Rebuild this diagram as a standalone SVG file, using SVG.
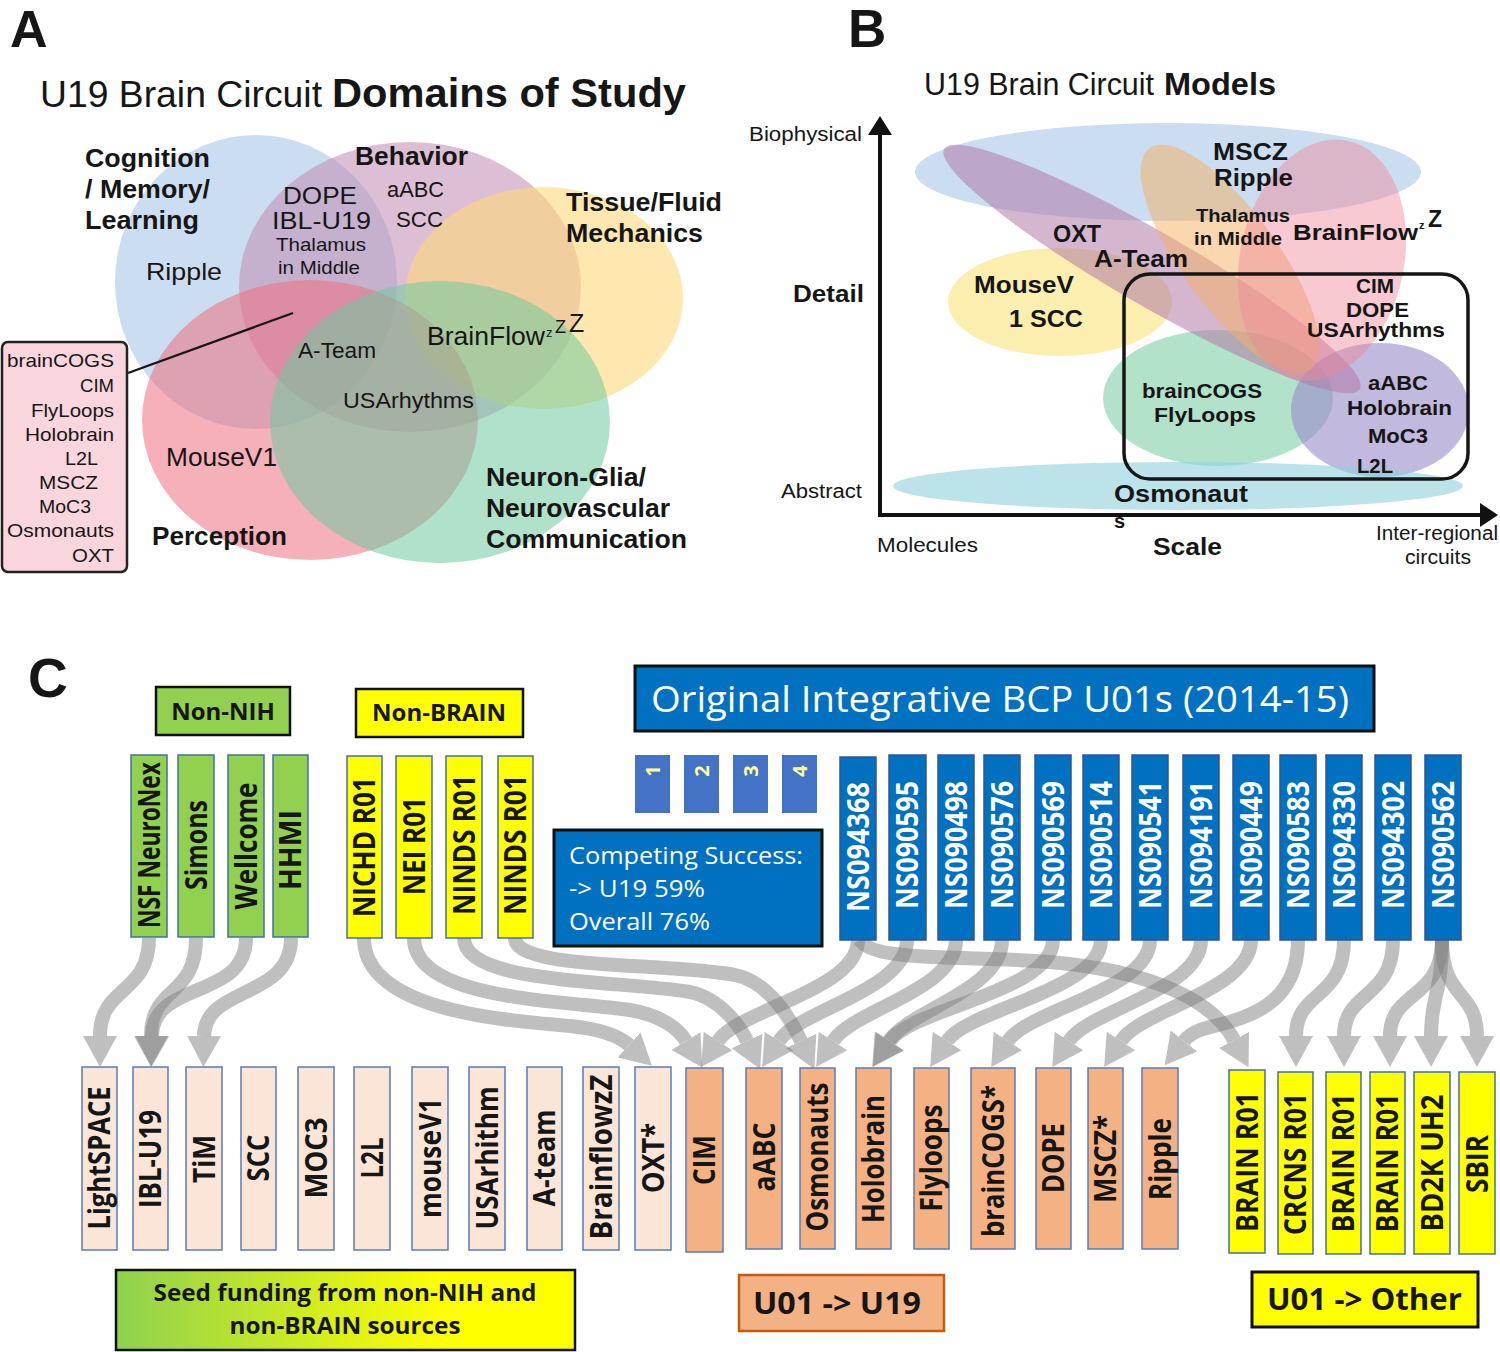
<svg xmlns="http://www.w3.org/2000/svg" width="1500" height="1352" viewBox="0 0 1500 1352">
<defs>
<style>
text{font-family:"Liberation Sans",Arial,sans-serif;fill:#161616}
.b{font-weight:bold}
.o{font-family:"Open Sans","Liberation Sans",sans-serif;font-weight:bold}
.ow{font-family:"Open Sans","Liberation Sans",sans-serif;fill:#ffffff}
.rl{font-family:"Open Sans","Liberation Sans",sans-serif;font-weight:bold;font-size:30px;text-anchor:middle}
.wt{fill:#ffffff}
.num{font-family:"Open Sans","Liberation Sans",sans-serif;font-weight:bold;font-size:20px;fill:#ffff99;text-anchor:middle}
.con path{fill:none;stroke:#808080;stroke-opacity:0.5;stroke-width:14;marker-end:url(#ah)}
.gb{fill:#92d050;stroke:#41719c;stroke-width:1.5}
.yb{fill:#ffff00;stroke:#41719c;stroke-width:1.5}
.nb{fill:#0070c0;stroke:#2f5597;stroke-width:1.5}
.pb{fill:#fbe5d6;stroke:#5b7bb5;stroke-width:1.5}
.ob{fill:#f4b183;stroke:#5b7bb5;stroke-width:1.5}
.sq{fill:#4472c4}
</style>
<marker id="ah" markerUnits="userSpaceOnUse" markerWidth="32" markerHeight="36" viewBox="0 0 32 36" refX="0" refY="18" orient="auto"><path d="M0,1 L31,18 L0,35 z" fill="#808080" fill-opacity="0.5"/></marker>
<linearGradient id="seed" x1="0" x2="1" y1="0" y2="0"><stop offset="0" stop-color="#8fd14f"/><stop offset="0.72" stop-color="#ffff00"/><stop offset="1" stop-color="#ffff00"/></linearGradient>
</defs>
<rect width="1500" height="1352" fill="#ffffff"/>

<!-- ========== PANEL A ========== -->
<g id="panelA">
<text class="b" x="10" y="47" font-size="52">A</text>
<text x="40" y="107" font-size="36" textLength="282" lengthAdjust="spacingAndGlyphs">U19 Brain Circuit</text>
<text class="b" x="332" y="107" font-size="40" textLength="354" lengthAdjust="spacingAndGlyphs">Domains of Study</text>
<g id="venn">
<ellipse cx="256" cy="282" rx="141" ry="147" fill="#a9c6e6" fill-opacity="0.6"/>
<ellipse cx="410" cy="287" rx="171" ry="145" fill="#c18ab2" fill-opacity="0.55"/>
<ellipse cx="544" cy="298" rx="139" ry="111" fill="#fdd97a" fill-opacity="0.6"/>
<ellipse cx="310" cy="420" rx="168" ry="140" fill="#ee7080" fill-opacity="0.55"/>
<ellipse cx="440" cy="422" rx="170" ry="141" fill="#6fcaa0" fill-opacity="0.55"/>
</g>
<text class="b" x="85" y="167" font-size="25" textLength="125" lengthAdjust="spacingAndGlyphs">Cognition</text>
<text class="b" x="85" y="198" font-size="25" textLength="125" lengthAdjust="spacingAndGlyphs">/ Memory/</text>
<text class="b" x="85" y="229" font-size="25" textLength="114" lengthAdjust="spacingAndGlyphs">Learning</text>
<text class="b" x="355" y="165" font-size="25" textLength="113" lengthAdjust="spacingAndGlyphs">Behavior</text>
<text class="b" x="566" y="211" font-size="25" textLength="156" lengthAdjust="spacingAndGlyphs">Tissue/Fluid</text>
<text class="b" x="566" y="242" font-size="25" textLength="137" lengthAdjust="spacingAndGlyphs">Mechanics</text>
<text x="283" y="204" font-size="23" textLength="74" lengthAdjust="spacingAndGlyphs">DOPE</text>
<text x="272" y="229" font-size="23" textLength="99" lengthAdjust="spacingAndGlyphs">IBL-U19</text>
<text x="276" y="251" font-size="19" textLength="90" lengthAdjust="spacingAndGlyphs">Thalamus</text>
<text x="278" y="274" font-size="19" textLength="82" lengthAdjust="spacingAndGlyphs">in Middle</text>
<text x="387" y="197" font-size="22" textLength="57" lengthAdjust="spacingAndGlyphs">aABC</text>
<text x="396" y="227" font-size="22" textLength="47" lengthAdjust="spacingAndGlyphs">SCC</text>
<text x="146" y="280" font-size="24" textLength="76" lengthAdjust="spacingAndGlyphs">Ripple</text>
<text x="298" y="358" font-size="22" textLength="78" lengthAdjust="spacingAndGlyphs">A-Team</text>
<text x="427" y="345" font-size="25" textLength="118" lengthAdjust="spacingAndGlyphs">BrainFlow</text>
<text x="546" y="337" font-size="13">z</text>
<text x="555" y="333" font-size="18">Z</text>
<text x="569" y="332" font-size="25">Z</text>
<text x="343" y="408" font-size="22" textLength="131" lengthAdjust="spacingAndGlyphs">USArhythms</text>
<text x="166" y="466" font-size="25" textLength="111" lengthAdjust="spacingAndGlyphs">MouseV1</text>
<text class="b" x="152" y="545" font-size="25" textLength="135" lengthAdjust="spacingAndGlyphs">Perception</text>
<text class="b" x="486" y="486" font-size="25" textLength="160" lengthAdjust="spacingAndGlyphs">Neuron-Glia/</text>
<text class="b" x="486" y="517" font-size="25" textLength="184" lengthAdjust="spacingAndGlyphs">Neurovascular</text>
<text class="b" x="486" y="548" font-size="25" textLength="201" lengthAdjust="spacingAndGlyphs">Communication</text>
<line x1="128" y1="373" x2="293" y2="313" stroke="#161616" stroke-width="2.2"/>
<g id="listbox">
<rect x="2" y="342" width="125" height="230" rx="6" fill="#f9d5dd" stroke="#222" stroke-width="2.5"/>
<text x="7" y="367" font-size="19" textLength="107" lengthAdjust="spacingAndGlyphs">brainCOGS</text>
<text x="80" y="392" font-size="19" textLength="34" lengthAdjust="spacingAndGlyphs">CIM</text>
<text x="31" y="417" font-size="19" textLength="83" lengthAdjust="spacingAndGlyphs">FlyLoops</text>
<text x="25" y="441" font-size="19" textLength="89" lengthAdjust="spacingAndGlyphs">Holobrain</text>
<text x="65" y="465" font-size="19" textLength="33" lengthAdjust="spacingAndGlyphs">L2L</text>
<text x="39" y="489" font-size="19" textLength="59" lengthAdjust="spacingAndGlyphs">MSCZ</text>
<text x="39" y="513" font-size="19" textLength="52" lengthAdjust="spacingAndGlyphs">MoC3</text>
<text x="7" y="537" font-size="19" textLength="107" lengthAdjust="spacingAndGlyphs">Osmonauts</text>
<text x="72" y="562" font-size="19" textLength="42" lengthAdjust="spacingAndGlyphs">OXT</text>
</g>
</g>

<!-- ========== PANEL B ========== -->
<g id="panelB">
<text class="b" x="848" y="47" font-size="53">B</text>
<text x="924" y="95" font-size="31" textLength="230" lengthAdjust="spacingAndGlyphs">U19 Brain Circuit</text>
<text class="b" x="1164" y="95" font-size="31" textLength="112" lengthAdjust="spacingAndGlyphs">Models</text>
<g id="modelEllipses">
<ellipse cx="1168" cy="172" rx="253" ry="49" fill="#a9c6e6" fill-opacity="0.6"/>
<ellipse cx="1060" cy="302" rx="112" ry="54" fill="#f9e27a" fill-opacity="0.6"/>
<ellipse cx="1218" cy="398" rx="115" ry="68" fill="#80cfa8" fill-opacity="0.6"/>
<ellipse cx="1380" cy="410" rx="89" ry="67" fill="#9a8bc8" fill-opacity="0.6"/>
<ellipse cx="1152" cy="269" rx="240" ry="37" transform="rotate(30 1152 269)" fill="#b07aa8" fill-opacity="0.55"/>
<ellipse cx="1230" cy="259" rx="137" ry="48" transform="rotate(54 1230 259)" fill="#f5b060" fill-opacity="0.5"/>
<ellipse cx="1322" cy="260" rx="82" ry="122" transform="rotate(12 1322 260)" fill="#f08898" fill-opacity="0.45"/>
<ellipse cx="1178" cy="486" rx="285" ry="24" fill="#8fd0dc" fill-opacity="0.6"/>
</g>
<rect x="1124" y="274" width="344" height="205" rx="26" fill="none" stroke="#161616" stroke-width="3.5"/>
<line x1="880" y1="517" x2="880" y2="132" stroke="#111" stroke-width="4"/>
<polygon points="880,116 868,135 892,135" fill="#111"/>
<line x1="878" y1="515" x2="1482" y2="515" stroke="#111" stroke-width="4"/>
<polygon points="1498,515 1480,503 1480,527" fill="#111"/>
<text x="749" y="141" font-size="20" textLength="113" lengthAdjust="spacingAndGlyphs">Biophysical</text>
<text class="b" x="793" y="302" font-size="24" textLength="71" lengthAdjust="spacingAndGlyphs">Detail</text>
<text x="781" y="498" font-size="20" textLength="81" lengthAdjust="spacingAndGlyphs">Abstract</text>
<text x="877" y="552" font-size="20" textLength="101" lengthAdjust="spacingAndGlyphs">Molecules</text>
<text class="b" x="1153" y="555" font-size="24" textLength="69" lengthAdjust="spacingAndGlyphs">Scale</text>
<text x="1376" y="540" font-size="20" textLength="122" lengthAdjust="spacingAndGlyphs">Inter-regional</text>
<text x="1405" y="564" font-size="20" textLength="66" lengthAdjust="spacingAndGlyphs">circuits</text>
<text class="b" x="1213" y="160" font-size="23" textLength="75" lengthAdjust="spacingAndGlyphs">MSCZ</text>
<text class="b" x="1214" y="186" font-size="23" textLength="79" lengthAdjust="spacingAndGlyphs">Ripple</text>
<text class="b" x="1196" y="222" font-size="18" textLength="94" lengthAdjust="spacingAndGlyphs">Thalamus</text>
<text class="b" x="1194" y="245" font-size="18" textLength="88" lengthAdjust="spacingAndGlyphs">in Middle</text>
<text class="b" x="1293" y="240" font-size="22" textLength="125" lengthAdjust="spacingAndGlyphs">BrainFlow</text>
<text class="b" x="1419" y="229" font-size="11">z</text>
<text class="b" x="1428" y="227" font-size="23">Z</text>
<text class="b" x="1053" y="242" font-size="23" textLength="48" lengthAdjust="spacingAndGlyphs">OXT</text>
<text class="b" x="1094" y="267" font-size="23" textLength="94" lengthAdjust="spacingAndGlyphs">A-Team</text>
<text class="b" x="974" y="293" font-size="23" textLength="100" lengthAdjust="spacingAndGlyphs">MouseV</text>
<text class="b" x="1009" y="327" font-size="23" textLength="74" lengthAdjust="spacingAndGlyphs">1 SCC</text>
<text class="b" x="1356" y="293" font-size="20" textLength="38" lengthAdjust="spacingAndGlyphs">CIM</text>
<text class="b" x="1346" y="317" font-size="20" textLength="63" lengthAdjust="spacingAndGlyphs">DOPE</text>
<text class="b" x="1307" y="337" font-size="20" textLength="138" lengthAdjust="spacingAndGlyphs">USArhythms</text>
<text class="b" x="1142" y="398" font-size="21" textLength="120" lengthAdjust="spacingAndGlyphs">brainCOGS</text>
<text class="b" x="1154" y="422" font-size="21" textLength="102" lengthAdjust="spacingAndGlyphs">FlyLoops</text>
<text class="b" x="1368" y="390" font-size="21" textLength="60" lengthAdjust="spacingAndGlyphs">aABC</text>
<text class="b" x="1347" y="415" font-size="21" textLength="105" lengthAdjust="spacingAndGlyphs">Holobrain</text>
<text class="b" x="1368" y="443" font-size="21" textLength="60" lengthAdjust="spacingAndGlyphs">MoC3</text>
<text class="b" x="1357" y="473" font-size="21" textLength="36" lengthAdjust="spacingAndGlyphs">L2L</text>
<text class="b" x="1114" y="502" font-size="23" textLength="134" lengthAdjust="spacingAndGlyphs">Osmonaut</text>
<text class="b" x="1114" y="528" font-size="20">s</text>
</g>

<!-- ========== PANEL C ========== -->
<text class="b" x="28" y="697" font-size="55">C</text>

<g id="connectors" class="con">
<path d="M149,938 C149,995 100,985 100,1036"/>
<path d="M196,938 C196,998 151,985 151,1036"/>
<path d="M246,938 C246,1000 153,980 152,1036"/>
<path d="M291,938 C291,1000 205,985 204,1036"/>
<path d="M364,938 C364,1010 500,1020 570,1026 C600,1029 618,1035 629,1045"/>
<path d="M414,938 C414,1000 560,1000 630,1010 C660,1015 678,1028 686,1041"/>
<path d="M464,938 C464,985 620,980 690,992 C720,998 740,1026 747,1041"/>
<path d="M515,938 C515,970 660,962 735,975 C770,982 792,1022 801,1041"/>
<path d="M858,940 C858,990 738,1010 718,1041"/>
<path d="M860,940 C872,962 960,955 1050,962 C1140,970 1210,995 1234,1040"/>
<path d="M907,940 C907,990 799,1010 779,1041"/>
<path d="M956,940 C956,990 853,1010 833,1041"/>
<path d="M1002,940 C1002,990 909,1010 889,1041"/>
<path d="M1053,940 C1053,992 912,1008 890,1041"/>
<path d="M1101,940 C1101,990 967,1010 947,1041"/>
<path d="M1150,940 C1150,990 1028,1010 1008,1041"/>
<path d="M1201,940 C1201,990 1089,1010 1069,1041"/>
<path d="M1251,940 C1251,990 1141,1010 1121,1041"/>
<path d="M1298,940 C1298,1015 1230,1020 1200,1030 C1192,1033 1188,1036 1184,1041"/>
<path d="M1344,940 C1344,1000 1296,990 1296,1036"/>
<path d="M1393,940 C1393,1000 1344,990 1344,1036"/>
<path d="M1442,940 C1442,1000 1390,990 1390,1036"/>
<path d="M1442,940 C1442,995 1431,995 1431,1036"/>
<path d="M1442,940 C1442,1000 1477,990 1477,1036"/>
</g>

<g id="non-nih"><rect x="156" y="687" width="134" height="48" fill="#92d050" stroke="#111" stroke-width="2.5"/><text class="o" x="223" y="720" font-size="24" text-anchor="middle">Non-NIH</text></g>
<g id="non-brain"><rect x="356" y="689" width="167" height="48" fill="#ffff00" stroke="#111" stroke-width="2.5"/><text class="o" x="439" y="721" font-size="24" text-anchor="middle">Non-BRAIN</text></g>
<g id="u01-title"><rect x="635" y="666" width="739" height="65" fill="#0070c0" stroke="#111" stroke-width="3"/><text class="ow" x="651" y="712" font-size="37" textLength="698" lengthAdjust="spacingAndGlyphs">Original Integrative BCP U01s (2014-15)</text></g>
<g id="competing"><rect x="554" y="830" width="268" height="116" fill="#0070c0" stroke="#111" stroke-width="3"/>
<text class="ow" x="569" y="864" font-size="24" textLength="234" lengthAdjust="spacingAndGlyphs">Competing Success:</text>
<text class="ow" x="569" y="897" font-size="24" textLength="136" lengthAdjust="spacingAndGlyphs">-&gt; U19 59%</text>
<text class="ow" x="569" y="930" font-size="24" textLength="141" lengthAdjust="spacingAndGlyphs">Overall 76%</text></g>

<g id="sq1"><rect class="sq" x="635" y="755" width="35" height="58"/><text class="num" transform="translate(659.5,771) rotate(-90)">1</text></g>
<g id="sq2"><rect class="sq" x="684" y="755" width="35" height="58"/><text class="num" transform="translate(708.5,771) rotate(-90)">2</text></g>
<g id="sq3"><rect class="sq" x="733" y="755" width="35" height="58"/><text class="num" transform="translate(757.5,771) rotate(-90)">3</text></g>
<g id="sq4"><rect class="sq" x="782" y="755" width="35" height="58"/><text class="num" transform="translate(806.5,771) rotate(-90)">4</text></g>

<g id="src-nsf"><rect class="gb" x="131" y="755" width="36" height="182"/><text class="rl" transform="translate(159.5,845) rotate(-90)" textLength="166" lengthAdjust="spacingAndGlyphs">NSF NeuroNex</text></g>
<g id="src-simons"><rect class="gb" x="178" y="755" width="36" height="182"/><text class="rl" transform="translate(206.5,845) rotate(-90)" textLength="90" lengthAdjust="spacingAndGlyphs">Simons</text></g>
<g id="src-wellcome"><rect class="gb" x="228" y="755" width="36" height="182"/><text class="rl" transform="translate(256.5,846) rotate(-90)" textLength="127" lengthAdjust="spacingAndGlyphs">Wellcome</text></g>
<g id="src-hhmi"><rect class="gb" x="273" y="755" width="35" height="182"/><text class="rl" transform="translate(301,850) rotate(-90)" textLength="80" lengthAdjust="spacingAndGlyphs">HHMI</text></g>
<g id="src-nichd"><rect class="yb" x="347" y="756" width="35" height="182"/><text class="rl" transform="translate(375,847) rotate(-90)" textLength="140" lengthAdjust="spacingAndGlyphs">NICHD R01</text></g>
<g id="src-nei"><rect class="yb" x="396" y="756" width="36" height="182"/><text class="rl" transform="translate(424.5,846) rotate(-90)" textLength="98" lengthAdjust="spacingAndGlyphs">NEI R01</text></g>
<g id="src-ninds1"><rect class="yb" x="446" y="756" width="36" height="182"/><text class="rl" transform="translate(474.5,845) rotate(-90)" textLength="140" lengthAdjust="spacingAndGlyphs">NINDS R01</text></g>
<g id="src-ninds2"><rect class="yb" x="498" y="756" width="35" height="182"/><text class="rl" transform="translate(526,845) rotate(-90)" textLength="140" lengthAdjust="spacingAndGlyphs">NINDS R01</text></g>

<g id="ns094368"><rect class="nb" x="840" y="757" width="36" height="183"/><text class="rl wt" transform="translate(868.5,847) rotate(-90)" textLength="130" lengthAdjust="spacingAndGlyphs">NS094368</text></g>
<g id="ns090595"><rect class="nb" x="889" y="755" width="37" height="185"/><text class="rl wt" transform="translate(918,845) rotate(-90)" textLength="128" lengthAdjust="spacingAndGlyphs">NS090595</text></g>
<g id="ns090498"><rect class="nb" x="938" y="755" width="36" height="185"/><text class="rl wt" transform="translate(966.5,845) rotate(-90)" textLength="128" lengthAdjust="spacingAndGlyphs">NS090498</text></g>
<g id="ns090576"><rect class="nb" x="984" y="755" width="36" height="185"/><text class="rl wt" transform="translate(1012.5,845) rotate(-90)" textLength="128" lengthAdjust="spacingAndGlyphs">NS090576</text></g>
<g id="ns090569"><rect class="nb" x="1035" y="755" width="36" height="185"/><text class="rl wt" transform="translate(1063.5,845) rotate(-90)" textLength="128" lengthAdjust="spacingAndGlyphs">NS090569</text></g>
<g id="ns090514"><rect class="nb" x="1083" y="755" width="36" height="185"/><text class="rl wt" transform="translate(1111.5,845) rotate(-90)" textLength="128" lengthAdjust="spacingAndGlyphs">NS090514</text></g>
<g id="ns090541"><rect class="nb" x="1132" y="755" width="36" height="185"/><text class="rl wt" transform="translate(1160.5,845) rotate(-90)" textLength="128" lengthAdjust="spacingAndGlyphs">NS090541</text></g>
<g id="ns094191"><rect class="nb" x="1183" y="755" width="36" height="185"/><text class="rl wt" transform="translate(1211.5,845) rotate(-90)" textLength="128" lengthAdjust="spacingAndGlyphs">NS094191</text></g>
<g id="ns090449"><rect class="nb" x="1233" y="755" width="36" height="185"/><text class="rl wt" transform="translate(1261.5,845) rotate(-90)" textLength="128" lengthAdjust="spacingAndGlyphs">NS090449</text></g>
<g id="ns090583"><rect class="nb" x="1280" y="755" width="36" height="185"/><text class="rl wt" transform="translate(1308.5,845) rotate(-90)" textLength="128" lengthAdjust="spacingAndGlyphs">NS090583</text></g>
<g id="ns094330"><rect class="nb" x="1326" y="755" width="36" height="185"/><text class="rl wt" transform="translate(1354.5,845) rotate(-90)" textLength="128" lengthAdjust="spacingAndGlyphs">NS094330</text></g>
<g id="ns094302"><rect class="nb" x="1375" y="755" width="36" height="185"/><text class="rl wt" transform="translate(1403.5,845) rotate(-90)" textLength="128" lengthAdjust="spacingAndGlyphs">NS094302</text></g>
<g id="ns090562"><rect class="nb" x="1425" y="755" width="36" height="185"/><text class="rl wt" transform="translate(1453.5,845) rotate(-90)" textLength="128" lengthAdjust="spacingAndGlyphs">NS090562</text></g>

<g id="t-lightspace"><rect class="pb" x="82" y="1067" width="35" height="183"/><text class="rl" transform="translate(110,1158) rotate(-90)" textLength="143" lengthAdjust="spacingAndGlyphs">LightSPACE</text></g>
<g id="t-iblu19"><rect class="pb" x="133" y="1067" width="35" height="183"/><text class="rl" transform="translate(161,1159) rotate(-90)" textLength="98" lengthAdjust="spacingAndGlyphs">IBL-U19</text></g>
<g id="t-tim"><rect class="pb" x="186" y="1067" width="36" height="183"/><text class="rl" transform="translate(214.5,1159) rotate(-90)" textLength="48" lengthAdjust="spacingAndGlyphs">TiM</text></g>
<g id="t-scc"><rect class="pb" x="241" y="1067" width="35" height="183"/><text class="rl" transform="translate(269,1158) rotate(-90)" textLength="47" lengthAdjust="spacingAndGlyphs">SCC</text></g>
<g id="t-moc3"><rect class="pb" x="298" y="1067" width="36" height="183"/><text class="rl" transform="translate(326.5,1158) rotate(-90)" textLength="81" lengthAdjust="spacingAndGlyphs">MOC3</text></g>
<g id="t-l2l"><rect class="pb" x="354" y="1067" width="36" height="183"/><text class="rl" transform="translate(382.5,1158) rotate(-90)" textLength="41" lengthAdjust="spacingAndGlyphs">L2L</text></g>
<g id="t-mousev1"><rect class="pb" x="412" y="1067" width="36" height="183"/><text class="rl" transform="translate(440.5,1158) rotate(-90)" textLength="120" lengthAdjust="spacingAndGlyphs">mouseV1</text></g>
<g id="t-usarhithm"><rect class="pb" x="469" y="1067" width="36" height="183"/><text class="rl" transform="translate(497.5,1158) rotate(-90)" textLength="143" lengthAdjust="spacingAndGlyphs">USArhithm</text></g>
<g id="t-ateam"><rect class="pb" x="527" y="1067" width="35" height="183"/><text class="rl" transform="translate(555,1158) rotate(-90)" textLength="97" lengthAdjust="spacingAndGlyphs">A-team</text></g>
<g id="t-brainflow"><rect class="pb" x="583" y="1067" width="36" height="183"/><text class="rl" transform="translate(611.5,1157) rotate(-90)" textLength="165" lengthAdjust="spacingAndGlyphs">BrainflowzZ</text></g>
<g id="t-oxt"><rect class="pb" x="635" y="1067" width="36" height="183"/><text class="rl" transform="translate(663.5,1158) rotate(-90)" textLength="70" lengthAdjust="spacingAndGlyphs">OXT*</text></g>

<g id="t-cim"><rect class="ob" x="686" y="1068" width="37" height="184"/><text class="rl" transform="translate(715,1160) rotate(-90)" textLength="50" lengthAdjust="spacingAndGlyphs">CIM</text></g>
<g id="t-aabc"><rect class="ob" x="746" y="1068" width="36" height="181"/><text class="rl" transform="translate(774.5,1157) rotate(-90)" textLength="69" lengthAdjust="spacingAndGlyphs">aABC</text></g>
<g id="t-osmonauts"><rect class="ob" x="800" y="1068" width="35" height="181"/><text class="rl" transform="translate(828,1157) rotate(-90)" textLength="149" lengthAdjust="spacingAndGlyphs">Osmonauts</text></g>
<g id="t-holobrain"><rect class="ob" x="856" y="1068" width="35" height="181"/><text class="rl" transform="translate(884,1159) rotate(-90)" textLength="128" lengthAdjust="spacingAndGlyphs">Holobrain</text></g>
<g id="t-flyloops"><rect class="ob" x="914" y="1068" width="35" height="181"/><text class="rl" transform="translate(942,1158) rotate(-90)" textLength="107" lengthAdjust="spacingAndGlyphs">Flyloops</text></g>
<g id="t-braincogs"><rect class="ob" x="971" y="1068" width="44" height="181"/><text class="rl" transform="translate(1003.5,1161) rotate(-90)" textLength="152" lengthAdjust="spacingAndGlyphs">brainCOGS*</text></g>
<g id="t-dope"><rect class="ob" x="1036" y="1068" width="35" height="181"/><text class="rl" transform="translate(1064,1158) rotate(-90)" textLength="70" lengthAdjust="spacingAndGlyphs">DOPE</text></g>
<g id="t-mscz"><rect class="ob" x="1088" y="1068" width="35" height="181"/><text class="rl" transform="translate(1116,1159) rotate(-90)" textLength="88" lengthAdjust="spacingAndGlyphs">MSCZ*</text></g>
<g id="t-ripple"><rect class="ob" x="1142" y="1068" width="36" height="181"/><text class="rl" transform="translate(1170.5,1159) rotate(-90)" textLength="82" lengthAdjust="spacingAndGlyphs">Ripple</text></g>

<g id="t-brainr01a"><rect class="yb" x="1229" y="1070" width="36" height="183"/><text class="rl" transform="translate(1257.5,1162) rotate(-90)" textLength="140" lengthAdjust="spacingAndGlyphs">BRAIN R01</text></g>
<g id="t-crcns"><rect class="yb" x="1278" y="1072" width="35" height="182"/><text class="rl" transform="translate(1306,1164) rotate(-90)" textLength="142" lengthAdjust="spacingAndGlyphs">CRCNS R01</text></g>
<g id="t-brainr01b"><rect class="yb" x="1326" y="1072" width="35" height="182"/><text class="rl" transform="translate(1354,1163) rotate(-90)" textLength="139" lengthAdjust="spacingAndGlyphs">BRAIN R01</text></g>
<g id="t-brainr01c"><rect class="yb" x="1370" y="1072" width="35" height="182"/><text class="rl" transform="translate(1398,1163) rotate(-90)" textLength="139" lengthAdjust="spacingAndGlyphs">BRAIN R01</text></g>
<g id="t-bd2k"><rect class="yb" x="1414" y="1072" width="36" height="182"/><text class="rl" transform="translate(1442.5,1163) rotate(-90)" textLength="137" lengthAdjust="spacingAndGlyphs">BD2K UH2</text></g>
<g id="t-sbir"><rect class="yb" x="1459" y="1072" width="36" height="182"/><text class="rl" transform="translate(1487.5,1164) rotate(-90)" textLength="58" lengthAdjust="spacingAndGlyphs">SBIR</text></g>

<g id="legend-seed"><rect x="116" y="1270" width="459" height="80" fill="url(#seed)" stroke="#111" stroke-width="2.5"/>
<text class="o" x="345" y="1301" font-size="24" text-anchor="middle" textLength="383" lengthAdjust="spacingAndGlyphs">Seed funding from non-NIH and</text>
<text class="o" x="345" y="1334" font-size="24" text-anchor="middle" textLength="231" lengthAdjust="spacingAndGlyphs">non-BRAIN sources</text></g>
<g id="legend-u19"><rect x="739" y="1275" width="205" height="56" fill="#f4b183" stroke="#c55a11" stroke-width="2.5"/>
<text class="o" x="837" y="1314" font-size="30" text-anchor="middle" textLength="168" lengthAdjust="spacingAndGlyphs">U01 -&gt; U19</text></g>
<g id="legend-other"><rect x="1252" y="1272" width="226" height="55" fill="#ffff00" stroke="#111" stroke-width="3"/>
<text class="o" x="1364.5" y="1310" font-size="30" text-anchor="middle" textLength="195" lengthAdjust="spacingAndGlyphs">U01 -&gt; Other</text></g>
</svg>
